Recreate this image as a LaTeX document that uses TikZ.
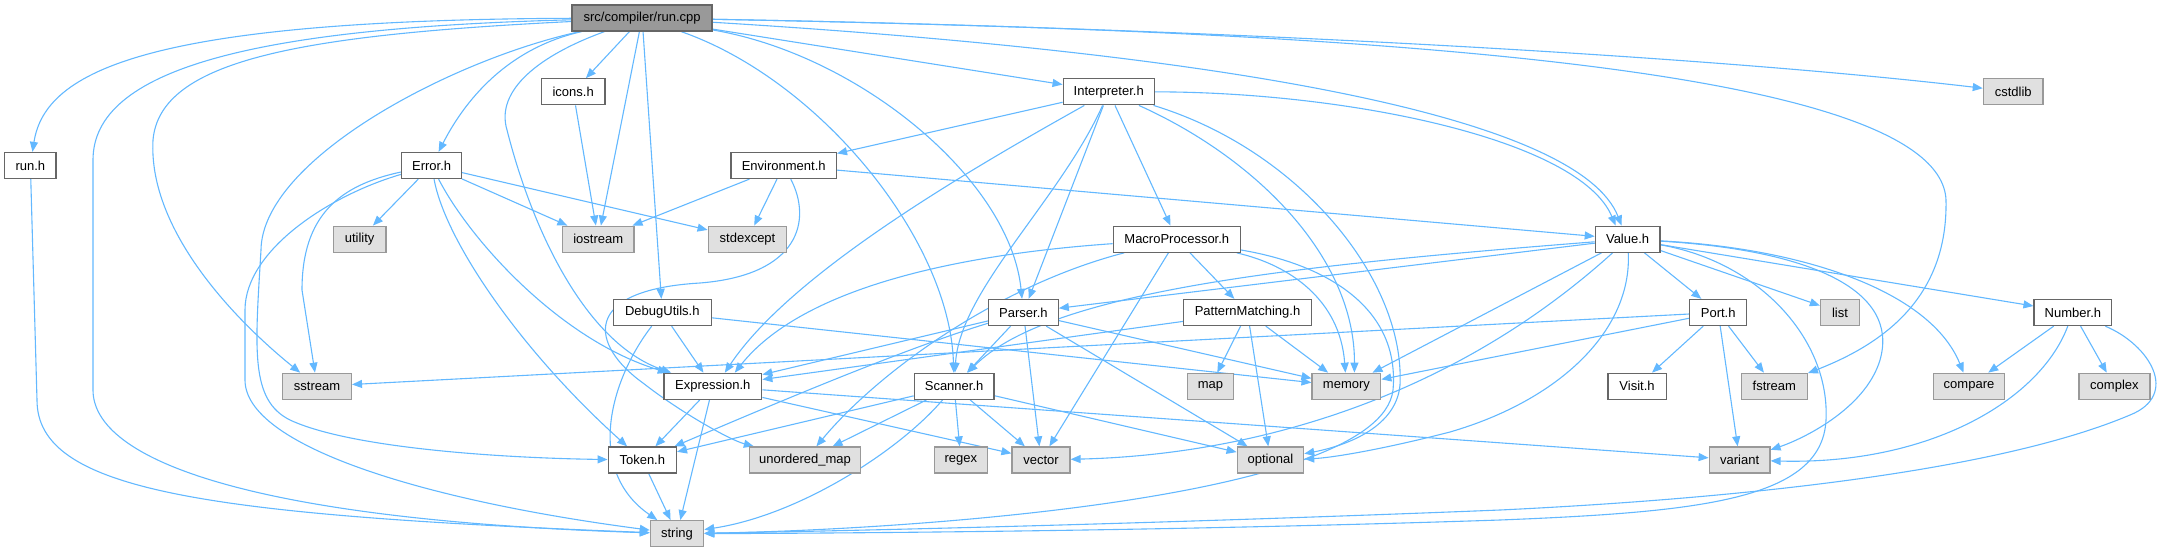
\documentclass[tikz,border=0pt]{standalone}
\usepackage{fontspec}
\setmainfont{Liberation Sans}
\usetikzlibrary{arrows.meta}
\definecolor{edgeblue}{HTML}{63B8FF}
\definecolor{rootfill}{HTML}{999999}
\definecolor{rootdraw}{HTML}{666666}
\definecolor{projdraw}{HTML}{666666}
\definecolor{sysfill}{HTML}{E0E0E0}
\definecolor{sysdraw}{HTML}{999999}
\pgfdeclarelayer{edgelayer}
\pgfsetlayers{edgelayer,main}
\begin{document}
\begin{tikzpicture}[x=1pt,y=-1pt,
  box/.style={draw, line width=1.3pt, minimum height=26pt, inner sep=0pt, font=\fontsize{13}{15}\selectfont, anchor=center},
  rootbox/.style={box, fill=rootfill, draw=rootdraw},
  projbox/.style={box, fill=white, draw=projdraw},
  sysbox/.style={box, fill=sysfill, draw=sysdraw},
  dep/.style={draw=edgeblue, line width=1.1pt, -{Triangle[length=10pt,width=8pt]}},
]
\useasboundingbox (0,0) rectangle (2173,552);
% row 1
\node[rootbox, minimum width=140pt] (root) at (642.1,18) {src/compiler/run.cpp};
% row 2
\node[projbox, minimum width=63.6pt] (icons) at (573.2,91.8) {icons.h};
\node[projbox, minimum width=91pt] (interp) at (1108.7,91.8) {Interpreter.h};
\node[sysbox, minimum width=59.6pt] (cstdlib) at (2013.2,91.8) {cstdlib};
% row 3
\node[projbox, minimum width=51.4pt] (runh) at (30.4,165.5) {run.h};
\node[projbox, minimum width=59.6pt] (error) at (431.6,165.5) {Error.h};
\node[projbox, minimum width=105.4pt] (env) at (783.7,165.5) {Environment.h};
% row 4
\node[sysbox, minimum width=52.9pt] (utility) at (359.6,239.2) {utility};
\node[sysbox, minimum width=71.4pt] (iostream) at (598.2,239.2) {iostream};
\node[sysbox, minimum width=78.6pt] (stdexcept) at (747.5,239.2) {stdexcept};
\node[projbox, minimum width=127.2pt] (macro) at (1176.8,239.2) {MacroProcessor.h};
\node[projbox, minimum width=64.5pt] (value) at (1627.6,239.2) {Value.h};
% row 5
\node[projbox, minimum width=98.2pt] (debug) at (662.3,312.5) {DebugUtils.h};
\node[projbox, minimum width=69.6pt] (parser) at (1023.4,312.5) {Parser.h};
\node[projbox, minimum width=127.9pt] (pattern) at (1247.5,312.5) {PatternMatching.h};
\node[projbox, minimum width=56.8pt] (port) at (1718.2,312.5) {Port.h};
\node[sysbox, minimum width=39pt] (list) at (1840,312.5) {list};
\node[projbox, minimum width=77.6pt] (number) at (2072.9,312.5) {Number.h};
% row 6
\node[sysbox, minimum width=68.6pt] (sstream) at (317.1,386.3) {sstream};
\node[projbox, minimum width=97.9pt] (expr) at (712.8,386.3) {Expression.h};
\node[projbox, minimum width=79.6pt] (scanner) at (954.1,386.3) {Scanner.h};
\node[sysbox, minimum width=46.4pt] (map) at (1210.4,386.3) {map};
\node[sysbox, minimum width=68.6pt] (memory) at (1346.4,386.3) {memory};
\node[projbox, minimum width=58.3pt] (visit) at (1637,386.3) {Visit.h};
\node[sysbox, minimum width=66pt] (fstream) at (1774.3,386.3) {fstream};
\node[sysbox, minimum width=71.6pt] (compare) at (1969,386.3) {compare};
\node[sysbox, minimum width=70.9pt] (complex) at (2114.4,386.3) {complex};
% row 7
\node[projbox, minimum width=68.2pt] (token) at (642.3,460) {Token.h};
\node[sysbox, minimum width=110.7pt] (umap) at (805,460) {unordered\_map};
\node[sysbox, minimum width=53.2pt] (regex) at (960.9,460) {regex};
\node[sysbox, minimum width=57.9pt] (vector) at (1041,460) {vector};
\node[sysbox, minimum width=66.4pt] (optional) at (1270.4,460) {optional};
\node[sysbox, minimum width=60.7pt] (variant) at (1739.6,460) {variant};
% row 8
\node[sysbox, minimum width=53.2pt] (string) at (677,533.7) {string};

\begin{pgfonlayer}{edgelayer}
% root
\draw[dep] (root) .. controls (150,20) and (45,70) .. (runh);
\draw[dep] (root) .. controls (250,28) and (93,70) .. (93,160) -- (93,390) .. controls (93,460) and (250,520) .. (string);
\draw[dep] (root) .. controls (300,35) and (160,60) .. (153,140) .. controls (148,230) and (235,320) .. (sstream);
\draw[dep] (root) .. controls (450,60) and (262,160) .. (261,250) .. controls (255,350) and (250,400) .. (290,420) .. controls (350,448) and (500,458) .. (token);
\draw[dep] (root) .. controls (500,50) and (460,110) .. (error);
\draw[dep] (root) .. controls (540,55) and (495,90) .. (507,130) .. controls (535,240) and (590,345) .. ([xshift=8pt]expr.north west);
\draw[dep] (root) -- (icons);
\draw[dep] (root) -- (iostream);
\draw[dep] (root) -- (debug);
\draw[dep] (root) .. controls (820,80) and (950,240) .. (scanner);
\draw[dep] (root) .. controls (860,55) and (1010,180) .. (parser);
\draw[dep] (root) -- (interp);
\draw[dep] (root) .. controls (1250,55) and (1580,120) .. ([xshift=-6pt]value.north);
\draw[dep] (root) .. controls (1200,28) and (1700,55) .. (cstdlib);
\draw[dep] (root) .. controls (1300,30) and (1940,60) .. (1946,200) .. controls (1948,300) and (1880,345) .. (fstream);
% run.h, icons.h
\draw[dep] (runh) -- (37,400) .. controls (37,490) and (200,515) .. (string);
\draw[dep] (icons) -- (iostream);
% Interpreter.h
\draw[dep] (interp) -- (env);
\draw[dep] (interp) .. controls (960,175) and (790,275) .. ([xshift=12pt]expr.north);
\draw[dep] (interp) .. controls (1060,200) and (960,290) .. (scanner);
\draw[dep] (interp) -- (parser);
\draw[dep] (interp) -- (macro);
\draw[dep] (interp) .. controls (1260,160) and (1355,260) .. ([xshift=8pt]memory.north);
\draw[dep] (interp) .. controls (1300,150) and (1405,280) .. (1400,385) .. controls (1396,430) and (1340,447) .. (optional);
\draw[dep] (interp) .. controls (1350,92) and (1580,140) .. ([xshift=-12pt]value.north);
% Error.h
\draw[dep] (error) -- (utility);
\draw[dep] (error) -- (iostream);
\draw[dep] (error) -- (stdexcept);
\draw[dep] (error) .. controls (340,185) and (302,215) .. (302,290) -- (sstream);
\draw[dep] (error) .. controls (330,195) and (245,250) .. (245,310) -- (245,380) .. controls (245,445) and (420,500) .. (string);
\draw[dep] (error) .. controls (445,240) and (520,350) .. (token);
\draw[dep] (error) .. controls (470,240) and (560,340) .. (expr);
% Environment.h
\draw[dep] (env) -- (iostream);
\draw[dep] (env) -- (stdexcept);
\draw[dep] (env) -- (value);
\draw[dep] (env) .. controls (812,220) and (800,275) .. (700,283) .. controls (580,290) and (590,345) .. (643,383) .. controls (680,412) and (730,440) .. (umap);
% MacroProcessor.h
\draw[dep] (macro) .. controls (950,255) and (800,290) .. ([xshift=22pt]expr.north);
\draw[dep] (macro) -- (pattern);
\draw[dep] (macro) .. controls (1000,285) and (880,370) .. (umap);
\draw[dep] (macro) -- (vector);
\draw[dep] (macro) .. controls (1290,265) and (1340,300) .. (memory);
\draw[dep] (macro) .. controls (1330,265) and (1400,310) .. (1393,390) .. controls (1380,500) and (900,530) .. (string);
% Value.h
\draw[dep] (value) -- (parser);
\draw[dep] (value) .. controls (1300,265) and (1050,290) .. (scanner);
\draw[dep] (value) -- (port);
\draw[dep] (value) -- (list);
\draw[dep] (value) -- (number);
\draw[dep] (value) -- (memory);
\draw[dep] (value) .. controls (1450,400) and (1250,455) .. (vector);
\draw[dep] (value) .. controls (1632,330) and (1560,400) .. (1450,432) .. controls (1380,450) and (1330,458) .. (optional);
\draw[dep] (value) .. controls (1810,250) and (1900,290) .. (1880,360) .. controls (1865,410) and (1800,440) .. (variant);
\draw[dep] (value) .. controls (1760,262) and (1830,340) .. (1826,420) .. controls (1822,500) and (1700,512) .. (1500,520) .. controls (1200,530) and (900,533) .. (string);
\draw[dep] (value) .. controls (1800,248) and (1930,290) .. (compare);
% DebugUtils.h
\draw[dep] (debug) -- (expr);
\draw[dep] (debug) .. controls (610,380) and (585,470) .. (string);
\draw[dep] (debug) -- (memory);
% Parser.h
\draw[dep] (parser) -- (expr);
\draw[dep] (parser) .. controls (900,350) and (760,410) .. (token);
\draw[dep] (parser) -- (scanner);
\draw[dep] (parser) -- (vector);
\draw[dep] (parser) -- (optional);
\draw[dep] (parser) -- (memory);
% PatternMatching.h
\draw[dep] (pattern) -- (expr);
\draw[dep] (pattern) -- (map);
\draw[dep] (pattern) -- (optional);
\draw[dep] (pattern) -- (memory);
% Port.h
\draw[dep] (port) -- (sstream);
\draw[dep] (port) -- (memory);
\draw[dep] (port) -- (visit);
\draw[dep] (port) -- (fstream);
\draw[dep] (port) -- (variant);
% Number.h
\draw[dep] (number) -- (compare);
\draw[dep] (number) -- (complex);
\draw[dep] (number) .. controls (2040,400) and (1930,465) .. (variant);
\draw[dep] (number) .. controls (2150,345) and (2180,395) .. (2130,415) .. controls (2000,470) and (1750,498) .. (1500,510) .. controls (1200,522) and (900,530) .. (string);
% Expression.h
\draw[dep] (expr) -- (token);
\draw[dep] (expr) -- (string);
\draw[dep] (expr) -- (vector);
\draw[dep] (expr) -- (variant);
% Scanner.h
\draw[dep] (scanner) -- (token);
\draw[dep] (scanner) -- (umap);
\draw[dep] (scanner) -- (regex);
\draw[dep] (scanner) -- (vector);
\draw[dep] (scanner) .. controls (900,450) and (800,515) .. (string);
\draw[dep] (scanner) -- (optional);
% Token.h
\draw[dep] (token) -- (string);
\end{pgfonlayer}
\end{tikzpicture}
\end{document}
